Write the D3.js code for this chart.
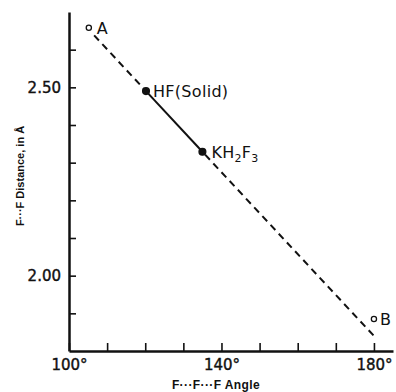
<!DOCTYPE html>
<meta charset="utf-8">
<html>
<head>
<title>F-F distance vs angle</title>
<script src="https://d3js.org/d3.v7.min.js"></script>
<style>
  body { margin: 0; background: #fff; }
  svg text { fill: #111; }
</style>
</head>
<body>
<svg width="396" height="392"></svg>
<script>
// data
var pointNames = ["A", "HF(Solid)", "KH2F3", "B"];
var pointAngle = [105.2, 120.2, 135.0, 180.0];
var pointDist = [2.658, 2.490, 2.329, 1.885];
var pointOpen = [true, false, false, true];

var lineDashedA = [[106.6, 2.638], [120.2, 2.490]];
var lineSolid = [[120.2, 2.490], [135.0, 2.329]];
var lineDashedB = [[135.0, 2.329], [180.0, 1.840]];

var xTicks = [100, 110, 120, 130, 140, 150, 160, 170, 180];
var xTickLabels = {100: "100°", 140: "140°", 180: "180°"};
var yTicks = [1.9, 2.0, 2.1, 2.2, 2.3, 2.4, 2.5, 2.6];
var yTickLabels = {"2.00": "2.00", "2.50": "2.50"};

var svg = d3.select("svg");

var x = d3.scaleLinear().domain([100, 185]).range([69, 393]);
var y = d3.scaleLinear().domain([1.80, 2.70]).range([351, 12]);

// axes
var xAxis = d3.axisBottom(x)
    .tickValues(xTicks)
    .tickSize(-8)
    .tickSizeOuter(0)
    .tickPadding(6)
    .tickFormat(function(d) { return xTickLabels[d] || ""; });

var yAxis = d3.axisLeft(y)
    .tickValues(yTicks)
    .tickSize(-7)
    .tickSizeOuter(0)
    .tickPadding(8)
    .tickFormat(function(d) { return yTickLabels[d.toFixed(2)] || ""; });

var gx = svg.append("g").attr("transform", "translate(0," + y(1.80) + ")").call(xAxis);
var gy = svg.append("g").attr("transform", "translate(" + x(100) + ",0)").call(yAxis);

[gx, gy].forEach(function(g) {
    g.select(".domain").attr("stroke", "#111").attr("stroke-width", 2.5);
    g.selectAll(".tick line").attr("stroke", "#111").attr("stroke-width", 1.6);
    g.selectAll(".tick text")
        .attr("font-family", "DejaVu Sans, sans-serif")
        .attr("font-size", 15)
        .attr("stroke", "#111")
        .attr("stroke-width", 0.4)
        .attr("fill", "#111");
});
gy.selectAll(".tick text").attr("dy", "0.35em");
gx.selectAll(".tick text").attr("dy", "0.85em");

// axis titles
svg.append("text")
    .attr("x", 216).attr("y", 389)
    .attr("text-anchor", "middle")
    .attr("font-family", "Liberation Sans, Arial, sans-serif")
    .attr("font-weight", "bold")
    .attr("font-size", 12)
    .attr("letter-spacing", 0.4)
    .text("F···F···F Angle");

svg.append("text")
    .attr("transform", "translate(24,176) rotate(-90)")
    .attr("text-anchor", "middle")
    .attr("font-family", "Liberation Sans, Arial, sans-serif")
    .attr("font-weight", "bold")
    .attr("font-size", 11)
    .text("F···F Distance, in Å");

// lines
var line = d3.line()
    .x(function(d) { return x(d[0]); })
    .y(function(d) { return y(d[1]); });

svg.append("path").datum(lineDashedA)
    .attr("d", line).attr("fill", "none").attr("stroke", "#111")
    .attr("stroke-width", 2).attr("stroke-dasharray", "7,5");
svg.append("path").datum(lineSolid)
    .attr("d", line).attr("fill", "none").attr("stroke", "#111")
    .attr("stroke-width", 2);
svg.append("path").datum(lineDashedB)
    .attr("d", line).attr("fill", "none").attr("stroke", "#111")
    .attr("stroke-width", 2).attr("stroke-dasharray", "7,5")
    .attr("stroke-dashoffset", -4);

// points
var pts = pointNames.map(function(n, i) {
    return {name: n, a: pointAngle[i], d: pointDist[i], open: pointOpen[i]};
});

svg.selectAll("circle.pt").data(pts).enter().append("circle")
    .attr("class", "pt")
    .attr("cx", function(d) { return x(d.a); })
    .attr("cy", function(d) { return y(d.d); })
    .attr("r", function(d) { return d.open ? 2.6 : 3.4; })
    .attr("fill", function(d) { return d.open ? "#fff" : "#111"; })
    .attr("stroke", "#111")
    .attr("stroke-width", 1.3);

// labels
var labelFont = "DejaVu Sans, sans-serif";
function addLabel(d, dx, dy) {
    var t = svg.append("text")
        .attr("x", x(d.a) + dx).attr("y", y(d.d) + dy)
        .attr("font-family", labelFont)
        .attr("font-size", 16)
        .attr("letter-spacing", 0.3);
    if (d.name === "KH2F3") {
        t.append("tspan").text("KH");
        t.append("tspan").attr("font-size", 11).attr("dy", 4).text("2");
        t.append("tspan").attr("dy", -4).text("F");
        t.append("tspan").attr("font-size", 11).attr("dy", 4).text("3");
    } else {
        t.text(d.name);
    }
}
addLabel(pts[0], 8, 6);
addLabel(pts[1], 7, 6);
addLabel(pts[2], 9, 6);
addLabel(pts[3], 6, 6);
</script>
</body>
</html>
